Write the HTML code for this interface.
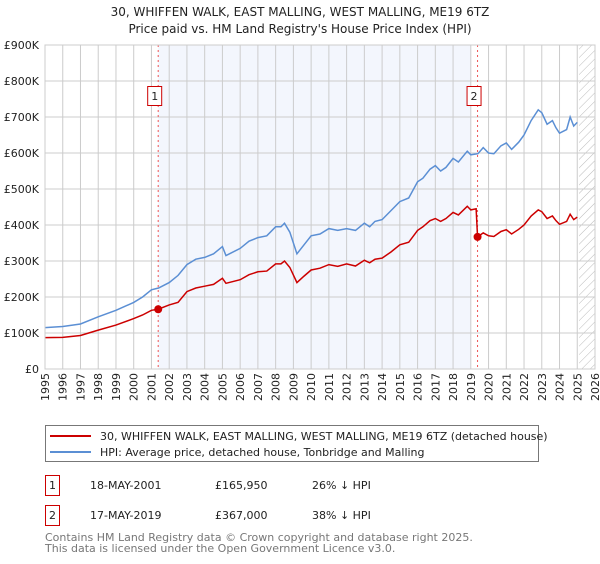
<!DOCTYPE html>
<html><head><meta charset="utf-8"><style>
body{margin:0;background:#fff;font-family:"DejaVu Sans","Liberation Sans",sans-serif;}
svg text{font-family:"DejaVu Sans","Liberation Sans",sans-serif;}
</style></head><body>
<svg id="chart" width="600" height="560" xmlns="http://www.w3.org/2000/svg">
<defs><pattern id="hatch" width="6" height="6" patternUnits="userSpaceOnUse" patternTransform="rotate(45)"><line x1="0" y1="0" x2="0" y2="6" stroke="#bbb" stroke-width="1"/></pattern></defs>
<text x="300" y="16" text-anchor="middle" font-size="12" fill="#222">30, WHIFFEN WALK, EAST MALLING, WEST MALLING, ME19 6TZ</text>
<text x="300" y="33" text-anchor="middle" font-size="12" fill="#222">Price paid vs. HM Land Registry's House Price Index (HPI)</text>
<g id="plot"></g>
<g>
<rect x="45.5" y="425.5" width="493" height="36" fill="#fff" stroke="#777"/>
<line x1="50" y1="436" x2="91" y2="436" stroke="#cc0000" stroke-width="2"/>
<text x="100" y="440" font-size="11" fill="#222">30, WHIFFEN WALK, EAST MALLING, WEST MALLING, ME19 6TZ (detached house)</text>
<line x1="50" y1="452" x2="91" y2="452" stroke="#5b8fd4" stroke-width="2"/>
<text x="100" y="456" font-size="11" fill="#222">HPI: Average price, detached house, Tonbridge and Malling</text>
</g>
<g font-size="11" fill="#222">
<rect x="45.5" y="475.5" width="14" height="20" fill="none" stroke="#cc0000"/>
<text x="52.5" y="489" text-anchor="middle">1</text>
<text x="90" y="489">18-MAY-2001</text><text x="215" y="489">£165,950</text><text x="312" y="489">26% ↓ HPI</text>
</g>
<g font-size="11" fill="#222">
<rect x="45.5" y="505.5" width="14" height="20" fill="none" stroke="#cc0000"/>
<text x="52.5" y="519" text-anchor="middle">2</text>
<text x="90" y="519">17-MAY-2019</text><text x="215" y="519">£367,000</text><text x="312" y="519">38% ↓ HPI</text>
</g>
<text x="45" y="541" font-size="11" fill="#777">Contains HM Land Registry data © Crown copyright and database right 2025.</text>
<text x="45" y="552" font-size="11" fill="#777">This data is licensed under the Open Government Licence v3.0.</text>
</svg>
<script>
const hpiYears=[1995,1996,1997,1998,1999,2000,2000.5,2001,2001.4,2002,2002.5,2003,2003.5,2004,2004.5,2005,2005.2,2006,2006.5,2007,2007.5,2008,2008.3,2008.5,2008.8,2009.2,2009.6,2010,2010.5,2011,2011.5,2012,2012.5,2013,2013.3,2013.6,2014,2014.5,2015,2015.5,2016,2016.3,2016.7,2017,2017.3,2017.6,2018,2018.3,2018.8,2019,2019.4,2019.7,2020,2020.3,2020.7,2021,2021.3,2021.7,2022,2022.4,2022.8,2023,2023.3,2023.6,2023.8,2024,2024.4,2024.6,2024.8,2025];
const hpiValues=[115,118,125,145,163,185,200,220,225,240,260,290,305,310,320,340,315,335,355,365,370,395,395,405,380,320,345,370,375,390,385,390,385,405,395,410,415,440,465,475,520,530,555,565,550,560,585,575,605,595,598,615,600,598,620,628,610,630,650,690,720,712,680,690,670,655,665,700,675,685];
const redYears=[1995,1996,1997,1998,1999,2000,2000.5,2001,2001.38,2002,2002.5,2003,2003.5,2004,2004.5,2005,2005.2,2006,2006.5,2007,2007.5,2008,2008.3,2008.5,2008.8,2009.2,2009.6,2010,2010.5,2011,2011.5,2012,2012.5,2013,2013.3,2013.6,2014,2014.5,2015,2015.5,2016,2016.3,2016.7,2017,2017.3,2017.6,2018,2018.3,2018.8,2019,2019.3,2019.38,2019.7,2020,2020.3,2020.7,2021,2021.3,2021.7,2022,2022.4,2022.8,2023,2023.3,2023.6,2023.8,2024,2024.4,2024.6,2024.8,2025];
const redValues=[87,88,93,108,122,140,150,163,166,178,185,215,225,230,235,252,238,248,262,270,272,292,292,300,282,240,258,275,280,290,285,292,286,302,295,305,308,325,345,352,385,395,412,418,410,418,435,428,452,442,445,367,378,370,368,382,387,375,388,400,425,442,437,418,425,412,402,410,430,415,422];
const saleYears=[2001.38,2019.38];
const saleValues=[165.95,367];
const saleLabels=["1","2"];
const yTicks=[0,100,200,300,400,500,600,700,800,900];
const yTickLabels=["£0","£100K","£200K","£300K","£400K","£500K","£600K","£700K","£800K","£900K"];
const xTicks=[1995,1996,1997,1998,1999,2000,2001,2002,2003,2004,2005,2006,2007,2008,2009,2010,2011,2012,2013,2014,2015,2016,2017,2018,2019,2020,2021,2022,2023,2024,2025,2026];

const X0=45,X1=595,Y0=369,Y1=45;
const x=v=>X0+(v-1995)/(2026-1995)*(X1-X0);
const y=v=>Y0-v/900*(Y0-Y1);
const NS="http://www.w3.org/2000/svg";
const g=document.getElementById('plot');
function mk(t,a,p){const e=document.createElementNS(NS,t);for(const k in a)e.setAttribute(k,a[k]);(p||g).appendChild(e);return e;}

const shade=mk('rect',{x:x(saleYears[0]),y:Y1,width:x(2019)-x(saleYears[0]),height:Y0-Y1,fill:'#f3f6fd'});


const hatch=mk('rect',{x:x(2025.1),y:Y1,width:X1-x(2025.1),height:Y0-Y1,fill:'url(#hatch)'});


xTicks.forEach(t=>{
  const l=mk('line',{x1:x(t),y1:Y1,x2:x(t),y2:Y0,stroke:'#cccccc','stroke-width':1});
  
  
  const tx=mk('text',{x:0,y:0,'font-size':11,fill:'#222','text-anchor':'end',transform:`translate(${x(t)+4},${Y0+4}) rotate(-90)`});
  tx.textContent=t;
  
  
});
yTicks.forEach((t,i)=>{
  const l=mk('line',{x1:X0,y1:y(t),x2:X1,y2:y(t),stroke:'#cccccc','stroke-width':1});
  
  
  const tx=mk('text',{x:39,y:y(t)+4,'font-size':11,fill:'#222','text-anchor':'end'});
  tx.textContent=yTickLabels[i];
  
  
});
saleYears.forEach((s,i)=>{
  const l=mk('line',{x1:x(s),y1:Y1,x2:x(s),y2:Y0,stroke:'#ee5555','stroke-width':1,'stroke-dasharray':'2,3'});
  
  
});
const hp=mk('polyline',{points:hpiYears.map((v,i)=>x(v)+','+y(hpiValues[i])).join(' '),fill:'none',stroke:'#5b8fd4','stroke-width':1.5});


const rp=mk('polyline',{points:redYears.map((v,i)=>x(v)+','+y(redValues[i])).join(' '),fill:'none',stroke:'#cc0000','stroke-width':1.5});


saleYears.forEach((s,i)=>{
  const c=mk('circle',{cx:x(s),cy:y(saleValues[i]),r:4,fill:'#cc0000'});
  
  
  const b=mk('rect',{x:x(s)-10.5,y:86.5,width:14,height:19,fill:'#fff',stroke:'#cc0000'});
  
  
  const t=mk('text',{x:x(s)-3.5,y:100,'font-size':11,fill:'#222','text-anchor':'middle'});
  t.textContent=saleLabels[i];
  
  
});
const fr=mk('rect',{x:X0,y:Y1,width:X1-X0,height:Y0-Y1,fill:'none',stroke:'#cccccc'});


</script>
</body></html>
